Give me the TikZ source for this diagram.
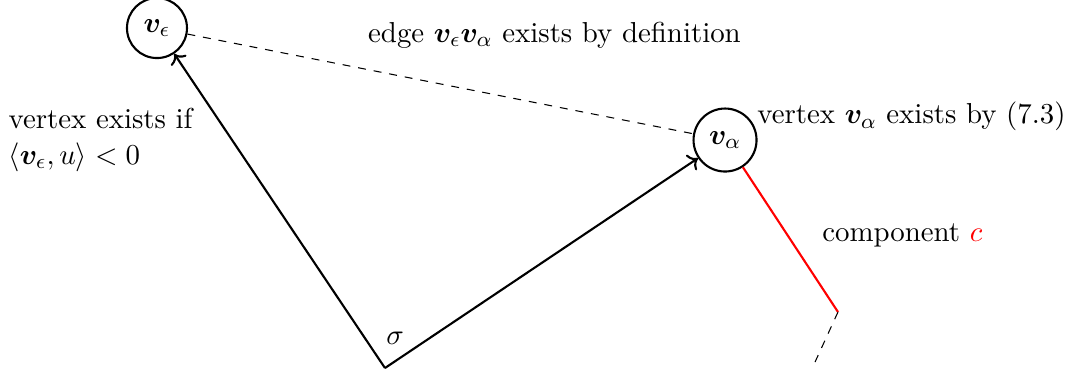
\documentclass[tikz,border=0pt,11pt]{standalone}
\usepackage{amsmath,amssymb}
\usepackage{bm}
\usetikzlibrary{arrows.meta}
\tikzset{
  vert/.style={circle, draw, thick, minimum size=0.8cm, inner sep=1pt},
  ray/.style={->, thick},
  link/.style={dashed, thin},
  comp/.style={red, thick},
  note/.style={align=left}
}

\begin{document}
\begin{tikzpicture}

\useasboundingbox (0,0) rectangle (14.293,5.027);

\coordinate (origin) at (5.133,0.12);
\node[vert] (veps) at (2.093,4.653) {$\bm{v}_\epsilon$};
\node[vert, minimum size=0.84cm] (valpha) at (9.667,3.16) {$\bm{v}_\alpha$};
\coordinate (cend) at (11.173,0.867);
\coordinate (ctail) at (10.867,0.2);

\node (edgelbl) at (7.393,4.56) {edge $\bm{v}_\epsilon\bm{v}_\alpha$ exists by definition};
\node[anchor=west, inner sep=0pt] (alphalbl) at (10.09,3.47) {vertex $\bm{v}_\alpha$ exists by (7.3)};
\node[note, anchor=west, inner sep=0pt] (epslbl) at (0.107,3.16) {vertex exists if\\$\langle \bm{v}_\epsilon, u\rangle < 0$};
\node (complbl) at (12.03,1.893) {component {\color{red}$c$}};
\node (sigma) at (5.267,0.52) {$\sigma$};

\draw[ray] (origin) -- (veps);
\draw[ray] (origin) -- (valpha);
\draw[link] (veps) -- (valpha);
\draw[comp] (valpha) -- (cend);
\draw[link] (cend) -- (ctail);

\end{tikzpicture}
\end{document}
